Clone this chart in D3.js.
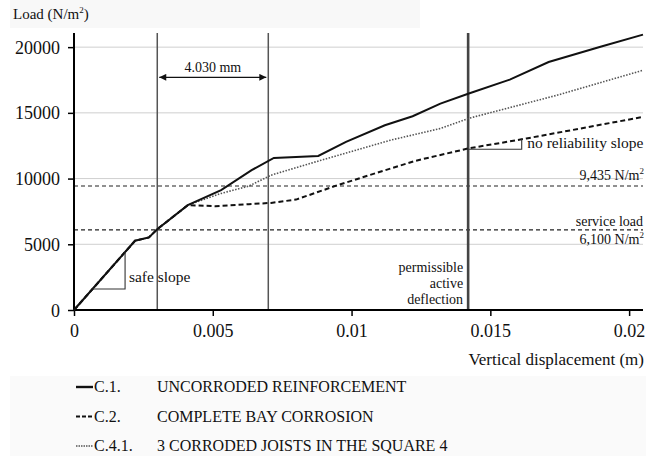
<!DOCTYPE html>
<html>
<head>
<meta charset="utf-8">
<script src="https://cdn.jsdelivr.net/npm/d3@7"></script>
<style>
  html, body { margin: 0; padding: 0; background: #fff; }
  svg { display: block; font-family: "Liberation Serif", "Times New Roman", serif; }
  svg text { font-family: "Liberation Serif", "Times New Roman", serif; }
</style>
</head>
<body>
<svg id="chart" width="646" height="456"></svg>
<script>
// ---- data ----
const dispC1 = [0, 0.0022, 0.0027, 0.0030, 0.0041, 0.0053, 0.0064, 0.0072, 0.0088, 0.0098, 0.0112, 0.0122, 0.0132, 0.0142, 0.0157, 0.0171, 0.0190, 0.0205];
const loadC1 = [0, 5270, 5520, 6150, 7980, 9120, 10640, 11570, 11720, 12790, 14060, 14740, 15700, 16450, 17530, 18870, 20050, 20950];

const dispC2 = [0, 0.0022, 0.0027, 0.0030, 0.0041, 0.0051, 0.0063, 0.0071, 0.0080, 0.0095, 0.0110, 0.0123, 0.0142, 0.0163, 0.0205];
const loadC2 = [0, 5270, 5520, 6150, 7980, 7900, 8050, 8150, 8400, 9500, 10500, 11350, 12290, 13050, 14690];

const dispC41 = [0, 0.0022, 0.0027, 0.0030, 0.0041, 0.0053, 0.0063, 0.0071, 0.0087, 0.0114, 0.0132, 0.0142, 0.0174, 0.0205];
const loadC41 = [0, 5270, 5520, 6150, 7980, 8870, 9430, 10260, 11270, 12920, 13810, 14570, 16340, 18240];

const xTicks = [0, 0.005, 0.01, 0.015, 0.02];
const xTickLabels = ["0", "0.005", "0.01", "0.015", "0.02"];
const yTicks = [0, 5000, 10000, 15000, 20000];

const refLoads = [9435, 6100];            // horizontal dashed reference lines
const refDisps = [0.003, 0.007];          // thin vertical lines
const permissibleDisp = 0.0142;           // permissible active deflection

const legendCodes = ["C.1.", "C.2.", "C.4.1."];
const legendNames = ["UNCORRODED REINFORCEMENT", "COMPLETE BAY CORROSION", "3 CORRODED JOISTS IN THE SQUARE 4"];

// ---- chart ----
const FONT = "Liberation Serif, Times New Roman, serif";
const svg = d3.select("#chart");
const x = d3.scaleLinear().domain([0, 0.0205]).range([74, 643]);
const y = d3.scaleLinear().domain([0, 21000]).range([310, 34]);

// faint background panels
svg.append("rect").attr("x", 10).attr("y", 0).attr("width", 410).attr("height", 28).attr("fill", "#f8f8f8");
svg.append("rect").attr("x", 10).attr("y", 376).attr("width", 636).attr("height", 80).attr("fill", "#fafafa");

// gridlines
svg.append("g").selectAll("line").data(yTicks.filter(d => d > 0)).join("line")
  .attr("x1", x(0)).attr("x2", x(0.0205))
  .attr("y1", d => y(d)).attr("y2", d => y(d))
  .attr("stroke", "#cfcfcf").attr("stroke-width", 1);

// reference horizontal dashed lines
svg.append("g").selectAll("line").data(refLoads).join("line")
  .attr("x1", x(0)).attr("x2", x(0.0205))
  .attr("y1", d => y(d)).attr("y2", d => y(d))
  .attr("stroke", "#222").attr("stroke-width", 1.1).attr("stroke-dasharray", "4,3");

// vertical lines
svg.append("g").selectAll("line").data(refDisps).join("line")
  .attr("x1", d => x(d)).attr("x2", d => x(d))
  .attr("y1", y(21000) - 1).attr("y2", y(0))
  .attr("stroke", "#555").attr("stroke-width", 1.5);
svg.append("line")
  .attr("x1", x(permissibleDisp)).attr("x2", x(permissibleDisp))
  .attr("y1", y(21000) - 1).attr("y2", y(0))
  .attr("stroke", "#444").attr("stroke-width", 2.6);

// axes
const yAxis = d3.axisLeft(y).tickValues(yTicks).tickSize(6).tickFormat(d3.format("d"));
const gy = svg.append("g").attr("transform", `translate(${x(0)},0)`).call(yAxis).attr("font-family", FONT);
gy.select(".domain").attr("d", `M0,${y(21000) - 1}V${y(0)}`).attr("stroke", "#000").attr("stroke-width", 2);
gy.selectAll(".tick line").attr("stroke", "#000").attr("stroke-width", 1.5);
gy.selectAll(".tick text").attr("font-size", 18).attr("fill", "#111").attr("x", -14).attr("dy", "0.34em");

const xAxis = d3.axisBottom(x).tickValues(xTicks).tickSize(6).tickFormat((d, i) => xTickLabels[i]);
const gx = svg.append("g").attr("transform", `translate(0,${y(0)})`).call(xAxis).attr("font-family", FONT);
gx.select(".domain").attr("d", `M${x(0)},0H${x(0.0205)}`).attr("stroke", "#000").attr("stroke-width", 2);
gx.selectAll(".tick line").attr("stroke", "#000").attr("stroke-width", 1.5);
gx.selectAll(".tick text").attr("font-size", 18).attr("fill", "#111").attr("y", 14).attr("dy", "0.71em");

// series
const line = d3.line().x(d => x(d[0])).y(d => y(d[1]));
const zip = (a, b) => a.map((v, i) => [v, b[i]]);
svg.append("path").datum(zip(dispC41, loadC41)).attr("d", line)
  .attr("fill", "none").attr("stroke", "#555").attr("stroke-width", 1.6).attr("stroke-dasharray", "1.5,1.5");
svg.append("path").datum(zip(dispC2, loadC2)).attr("d", line)
  .attr("fill", "none").attr("stroke", "#111").attr("stroke-width", 2).attr("stroke-dasharray", "5,3");
svg.append("path").datum(zip(dispC1, loadC1)).attr("d", line)
  .attr("fill", "none").attr("stroke", "#111").attr("stroke-width", 2);

// dimension arrow 4.030 mm
const defs = svg.append("defs");
defs.append("marker").attr("id", "ah").attr("viewBox", "0 0 10 10").attr("refX", 10).attr("refY", 5)
  .attr("markerWidth", 9).attr("markerHeight", 7).attr("orient", "auto-start-reverse").attr("markerUnits", "userSpaceOnUse")
  .append("path").attr("d", "M0,0L10,5L0,10z").attr("fill", "#111");
svg.append("line")
  .attr("x1", x(refDisps[0]) + 2).attr("x2", x(refDisps[1]) - 2)
  .attr("y1", y(17700)).attr("y2", y(17700))
  .attr("stroke", "#111").attr("stroke-width", 1.3)
  .attr("marker-start", "url(#ah)").attr("marker-end", "url(#ah)");
svg.append("text").attr("x", (x(refDisps[0]) + x(refDisps[1])) / 2).attr("y", y(17700) - 5)
  .attr("text-anchor", "middle").attr("font-size", 14).attr("fill", "#111").text("4.030 mm");

// safe slope triangle
svg.append("path")
  .attr("d", `M${x(0.00067)},${y(1600)}H${x(0.00184)}V${y(4400)}`)
  .attr("fill", "none").attr("stroke", "#333").attr("stroke-width", 1.1);
svg.append("text").attr("x", x(0.00198)).attr("y", y(2130)).attr("font-size", 15.5).attr("fill", "#111").text("safe slope");

// no reliability slope
svg.append("path")
  .attr("d", `M${x(permissibleDisp)},${y(12228)}H${x(0.01613)}V${y(12990)}`)
  .attr("fill", "none").attr("stroke", "#333").attr("stroke-width", 1.1);
svg.append("text").attr("x", x(0.01633)).attr("y", y(12300)).attr("font-size", 15.5).attr("fill", "#111").text("no reliability slope");

// right labels
function supLabel(txt, xx, yy) {
  const t = svg.append("text").attr("x", xx).attr("y", yy).attr("text-anchor", "end").attr("font-size", 14).attr("fill", "#111");
  t.append("tspan").text(txt);
  t.append("tspan").attr("font-size", 9).attr("dy", -6).text("2");
  return t;
}
supLabel("9,435 N/m", 644, y(refLoads[0]) - 6);
svg.append("text").attr("x", 643).attr("y", y(refLoads[1]) - 4).attr("text-anchor", "end").attr("font-size", 14).attr("fill", "#111").text("service load");
supLabel("6,100 N/m", 644, y(refLoads[1]) + 14);

// permissible active deflection
["permissible", "active", "deflection"].forEach((s, i) => {
  svg.append("text").attr("x", x(permissibleDisp) - 5).attr("y", 272 + i * 16)
    .attr("text-anchor", "end").attr("font-size", 14).attr("fill", "#111").text(s);
});

// axis titles
const yl = svg.append("text").attr("x", 13).attr("y", 19).attr("font-size", 15).attr("fill", "#111");
yl.append("tspan").text("Load (N/m");
yl.append("tspan").attr("font-size", 9).attr("dy", -6).text("2");
yl.append("tspan").attr("dy", 6).text(")");
svg.append("text").attr("x", 644).attr("y", 365).attr("text-anchor", "end").attr("font-size", 17).attr("fill", "#111").text("Vertical displacement (m)");

// legend
const dashes = [null, "4,2", "1.5,1"];
const widths = [2.4, 2, 1.5];
legendCodes.forEach((c, i) => {
  const yy = 392 + i * 29.5;
  svg.append("line").attr("x1", 76).attr("x2", 93).attr("y1", yy - 5).attr("y2", yy - 5)
    .attr("stroke", i === 2 ? "#555" : "#111").attr("stroke-width", widths[i]).attr("stroke-dasharray", dashes[i]);
  svg.append("text").attr("x", 94).attr("y", yy).attr("font-size", 16).attr("fill", "#111").text(c);
  svg.append("text").attr("x", 157).attr("y", yy).attr("font-size", 16).attr("fill", "#111").text(legendNames[i]);
});
</script>
</body>
</html>
